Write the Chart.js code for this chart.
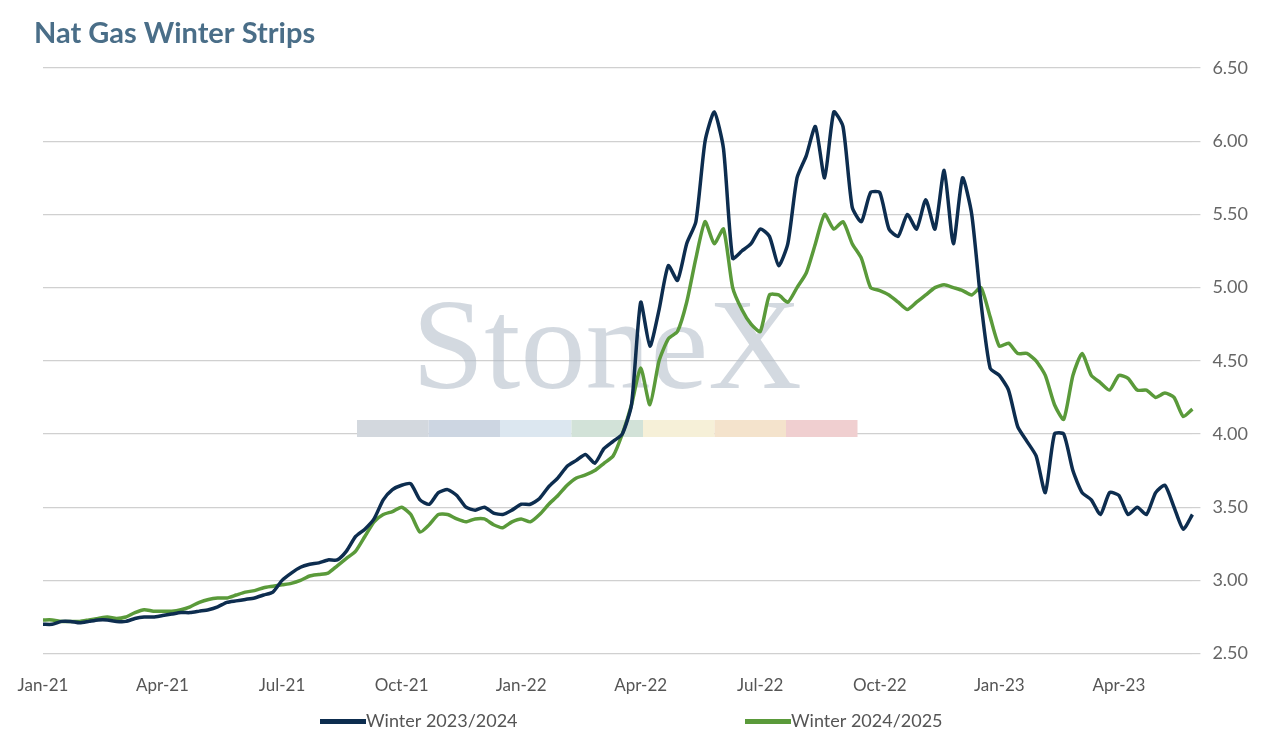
<!DOCTYPE html>
<html>
<head>
<meta charset="utf-8">
<script src="https://cdn.jsdelivr.net/npm/chart.js@4"></script>
<style>
  body { margin: 0; background: #fff; }
</style>
</head>
<body>
<canvas id="chartJS" width="1272" height="743"></canvas>
<script>
// quarter tick labels, one every 13 weekly points
const tickLabels = ["Jan-21", "Apr-21", "Jul-21", "Oct-21", "Jan-22", "Apr-22", "Jul-22", "Oct-22", "Jan-23", "Apr-23"];

const winter2324 = [
  2.70, 2.70, 2.72, 2.72, 2.71, 2.72, 2.73, 2.73, 2.72, 2.72, 2.74, 2.75, 2.75,
  2.76, 2.77, 2.78, 2.78, 2.79, 2.80, 2.82, 2.85, 2.86, 2.87, 2.88, 2.90, 2.92,
  3.00, 3.05, 3.09, 3.11, 3.12, 3.14, 3.14, 3.20, 3.30, 3.35, 3.42, 3.55, 3.62,
  3.65, 3.66, 3.55, 3.52, 3.60, 3.62, 3.58, 3.50, 3.48, 3.50, 3.46, 3.45, 3.48,
  3.52, 3.52, 3.56, 3.64, 3.70, 3.78, 3.82, 3.86, 3.80, 3.90, 3.95, 4.00, 4.20,
  4.90, 4.60, 4.85, 5.15, 5.05, 5.30, 5.45, 6.00, 6.20, 5.95, 5.20, 5.25, 5.30,
  5.40, 5.35, 5.15, 5.30, 5.75, 5.90, 6.10, 5.75, 6.20, 6.10, 5.55, 5.45, 5.65,
  5.65, 5.40, 5.35, 5.50, 5.40, 5.60, 5.40, 5.80, 5.30, 5.75, 5.50, 4.90, 4.45,
  4.40, 4.30, 4.05, 3.95, 3.85, 3.60, 4.00, 4.00, 3.75, 3.60, 3.55, 3.45, 3.60,
  3.58, 3.45, 3.50, 3.45, 3.60, 3.65, 3.50, 3.35, 3.45
];

const winter2425 = [
  2.73, 2.73, 2.72, 2.72, 2.72, 2.73, 2.74, 2.75, 2.74, 2.75, 2.78, 2.80, 2.79,
  2.79, 2.79, 2.80, 2.82, 2.85, 2.87, 2.88, 2.88, 2.90, 2.92, 2.93, 2.95, 2.96,
  2.97, 2.98, 3.00, 3.03, 3.04, 3.05, 3.10, 3.15, 3.20, 3.30, 3.40, 3.45, 3.47,
  3.50, 3.45, 3.33, 3.38, 3.45, 3.45, 3.42, 3.40, 3.42, 3.42, 3.38, 3.36, 3.40,
  3.42, 3.40, 3.45, 3.52, 3.58, 3.65, 3.70, 3.72, 3.75, 3.80, 3.85, 4.00, 4.20,
  4.45, 4.20, 4.50, 4.65, 4.70, 4.90, 5.20, 5.45, 5.30, 5.40, 5.00, 4.85, 4.75,
  4.70, 4.95, 4.95, 4.90, 5.00, 5.10, 5.30, 5.50, 5.40, 5.45, 5.30, 5.20, 5.00,
  4.98, 4.95, 4.90, 4.85, 4.90, 4.95, 5.00, 5.02, 5.00, 4.98, 4.95, 5.00, 4.80,
  4.60, 4.62, 4.55, 4.55, 4.50, 4.40, 4.20, 4.10, 4.40, 4.55, 4.40, 4.35, 4.30,
  4.40, 4.38, 4.30, 4.30, 4.25, 4.28, 4.25, 4.12, 4.17
];

const labels = winter2324.map((v, i) => (i % 13 === 0 ? tickLabels[i / 13] : ""));

// StoneX watermark behind the lines, title and legend drawn by hand
const watermark = {
  id: "watermark",
  beforeDatasetsDraw(chart) {
    const ctx = chart.ctx;
    ctx.save();
    ctx.font = "130px 'Liberation Serif', serif";
    ctx.fillStyle = "rgba(175,185,198,0.55)";
    ctx.textAlign = "center";
    ctx.textBaseline = "alphabetic";
    ctx.fillText("StoneX", 607, 388);
    const cols = ["#d3d8de", "#cdd6e2", "#dce7f0", "#d2e2d8", "#f6f0d8", "#f4e3cc", "#f0cfd0"];
    cols.forEach((c, k) => {
      ctx.fillStyle = c;
      ctx.fillRect(357 + k * 71.5, 420, 71.5, 17);
    });
    ctx.restore();
  },
  afterDraw(chart) {
    const ctx = chart.ctx;
    ctx.save();
    ctx.font = "bold 29px Lato";
    ctx.fillStyle = "#4a6e88";
    ctx.textBaseline = "middle";
    ctx.fillText("Nat Gas Winter Strips", 34, 34);
    const xs = [320, 745];
    ctx.font = "18px Lato";
    chart.data.datasets.forEach((ds, k) => {
      ctx.fillStyle = ds.borderColor;
      ctx.fillRect(xs[k], 719, 46, 5);
      ctx.fillStyle = "#555";
      ctx.fillText(ds.label, xs[k] + 46, 721);
    });
    ctx.restore();
  }
};

new Chart(document.getElementById("chartJS"), {
  type: "line",
  data: {
    labels: labels,
    datasets: [
      {
        label: "Winter 2023/2024",
        data: winter2324,
        borderColor: "#0d2d4f",
        backgroundColor: "#0d2d4f",
        borderWidth: 3.5,
        pointRadius: 0,
        tension: 0.2
      },
      {
        label: "Winter 2024/2025",
        data: winter2425,
        borderColor: "#5a9a3a",
        backgroundColor: "#5a9a3a",
        borderWidth: 3.5,
        pointRadius: 0,
        tension: 0.2
      }
    ]
  },
  options: {
    responsive: false,
    animation: false,
    layout: { padding: { left: 43, right: 12, top: 68, bottom: 33 } },
    plugins: {
      legend: { display: false },
      tooltip: { enabled: false }
    },
    scales: {
      x: {
        grid: { display: false },
        border: { display: false },
        ticks: {
          autoSkip: false,
          maxRotation: 0,
          padding: 14,
          color: "#555",
          font: { family: "Lato", size: 17 },
          callback: function (v, i) { return labels[i]; }
        }
      },
      y: {
        position: "right",
        min: 2.5,
        max: 6.5,
        grid: { color: "#d0d0d0", lineWidth: 1.2 },
        border: { display: false },
        ticks: {
          stepSize: 0.5,
          padding: 12,
          color: "#666",
          font: { family: "Lato", size: 18 },
          callback: v => v.toFixed(2)
        }
      }
    }
  },
  plugins: [watermark]
});
</script>
</body>
</html>
